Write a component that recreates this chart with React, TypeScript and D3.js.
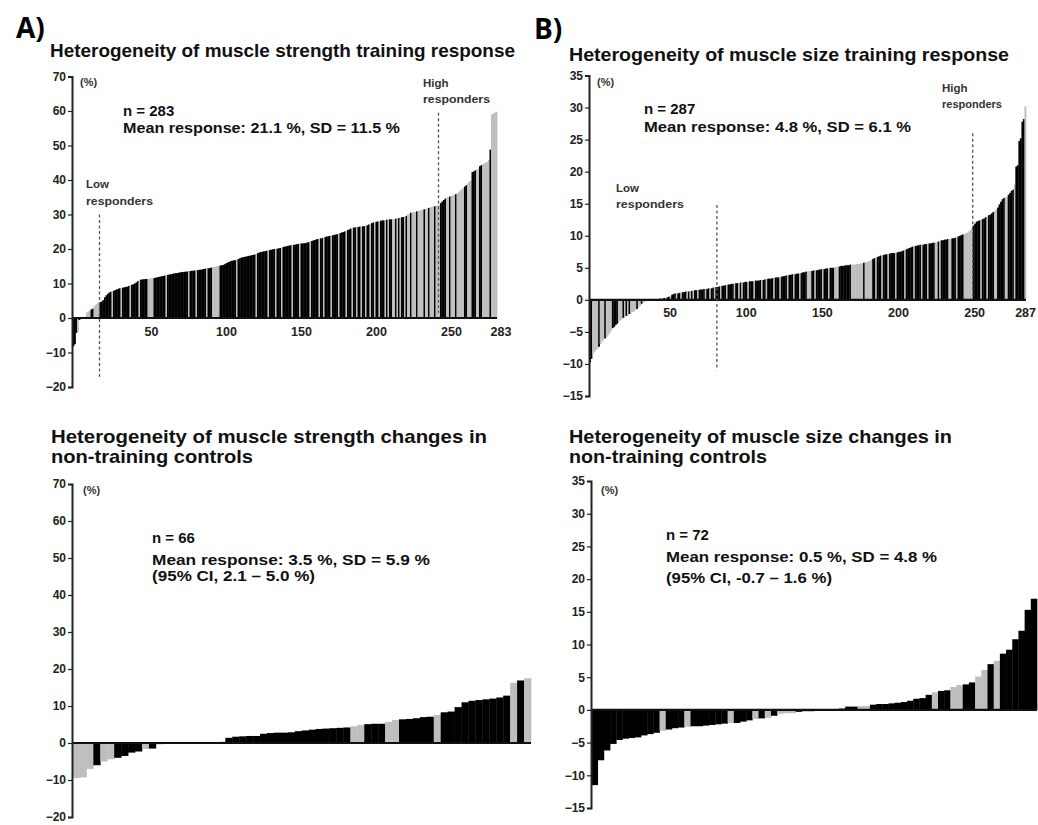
import React, { useEffect, useRef } from 'react';
import * as d3 from 'd3';

// A) strength, training group (sorted responses, %)
const strengthTrainValues = [
  -8.2, -7.6, -4.3, -4.0, -0.6, -0.3, -0.1, 0.1, 0.3, 1.6,
  1.9, 2.1, 2.5, 2.7, 3.4, 3.8, 4.2, 4.5, 4.6, 4.8,
  5.2, 6.0, 6.6, 7.0, 7.4, 7.6, 7.8, 7.9, 8.1, 8.3,
  8.5, 8.6, 8.7, 8.8, 8.9, 9.0, 9.1, 9.3, 9.5, 9.6,
  9.8, 10.0, 10.3, 10.7, 11.0, 11.1, 11.2, 11.2, 11.3, 11.3,
  11.4, 11.4, 11.5, 11.5, 11.6, 11.7, 11.8, 11.9, 12.0, 12.1,
  12.2, 12.3, 12.4, 12.5, 12.6, 12.7, 12.8, 12.9, 13.0, 13.0,
  13.1, 13.2, 13.3, 13.3, 13.4, 13.4, 13.5, 13.6, 13.6, 13.7,
  13.7, 13.8, 13.9, 13.9, 14.0, 14.0, 14.1, 14.2, 14.3, 14.4,
  14.4, 14.5, 14.6, 14.7, 14.8, 14.9, 15.0, 15.1, 15.2, 15.3,
  15.4, 15.6, 15.9, 16.1, 16.3, 16.5, 16.6, 16.7, 16.8, 16.9,
  17.1, 17.3, 17.5, 17.6, 17.7, 17.8, 17.9, 18.0, 18.1, 18.2,
  18.3, 18.4, 18.6, 18.8, 19.0, 19.1, 19.2, 19.3, 19.4, 19.5,
  19.6, 19.7, 19.8, 19.9, 20.0, 20.0, 20.1, 20.2, 20.3, 20.4,
  20.6, 20.7, 20.8, 20.9, 21.0, 21.1, 21.2, 21.2, 21.3, 21.4,
  21.5, 21.5, 21.6, 21.6, 21.7, 21.7, 21.9, 22.0, 22.2, 22.3,
  22.5, 22.6, 22.8, 22.9, 23.0, 23.1, 23.2, 23.3, 23.5, 23.6,
  23.7, 23.8, 23.9, 24.0, 24.1, 24.2, 24.3, 24.5, 24.6, 24.8,
  24.9, 25.1, 25.3, 25.5, 25.7, 25.9, 26.1, 26.2, 26.3, 26.4,
  26.4, 26.5, 26.5, 26.6, 26.6, 26.7, 26.9, 27.1, 27.3, 27.5,
  27.7, 27.8, 27.9, 28.0, 28.1, 28.2, 28.3, 28.3, 28.4, 28.5,
  28.5, 28.6, 28.6, 28.7, 28.7, 28.8, 28.9, 29.0, 29.1, 29.2,
  29.3, 29.3, 29.6, 30.0, 30.3, 30.5, 30.6, 30.7, 30.8, 30.9,
  31.0, 31.1, 31.3, 31.4, 31.5, 31.6, 31.8, 31.9, 32.1, 32.2,
  32.3, 32.4, 32.5, 32.6, 32.8, 33.3, 33.8, 34.2, 34.6, 34.9,
  35.0, 35.2, 35.4, 35.6, 35.7, 35.9, 36.2, 36.6, 37.0, 37.3,
  37.7, 38.1, 38.5, 39.0, 39.6, 39.8, 42.3, 42.5, 42.8, 43.0,
  43.2, 44.0, 44.3, 44.6, 44.8, 45.0, 45.3, 45.8, 48.8, 59.0,
  59.3, 59.5, 59.8,
];
const strengthTrainGray = [
  3, 9, 10, 11, 14, 15, 16, 17, 26, 32, 38, 44, 50, 51, 52, 53, 62, 77, 82, 89,
  93, 94, 95, 96, 97, 109, 122, 130, 135, 139, 146, 151, 158, 164, 167, 172, 177,
  182, 186, 189, 192, 195, 198, 201, 204, 208, 210, 213, 214, 216, 218, 221, 223,
  224, 226, 227, 228, 230, 231, 232, 233, 235, 236, 238, 239, 240, 242, 243, 244,
  249, 250, 252, 253, 254, 256, 257, 258, 259, 260, 263, 264, 265, 269, 270, 273,
  274, 275, 276, 277, 279, 280, 281, 282,
];

// B) size, training group
const sizeTrainValues = [
  -9.8, -9.2, -8.4, -8.1, -7.8, -7.6, -7.3, -6.9, -6.5, -6.2,
  -6.0, -5.8, -5.5, -5.2, -4.8, -4.4, -4.2, -3.9, -3.7, -3.4,
  -3.2, -3.0, -2.8, -2.6, -2.5, -2.4, -2.2, -2.0, -1.9, -1.8,
  -1.6, -1.4, -1.1, -0.9, -0.6, -0.4, -0.2, -0.1, -0.1, 0.0,
  0.0, 0.0, 0.1, 0.1, 0.1, 0.1, 0.2, 0.2, 0.2, 0.3,
  0.3, 0.4, 0.5, 0.6, 0.8, 0.9, 1.0, 1.0, 1.0, 1.1,
  1.1, 1.2, 1.2, 1.3, 1.3, 1.3, 1.4, 1.4, 1.4, 1.5,
  1.5, 1.5, 1.6, 1.6, 1.6, 1.7, 1.7, 1.7, 1.8, 1.8,
  1.8, 1.9, 1.9, 2.0, 2.0, 2.1, 2.1, 2.2, 2.2, 2.3,
  2.3, 2.4, 2.4, 2.5, 2.5, 2.5, 2.6, 2.6, 2.6, 2.7,
  2.7, 2.7, 2.8, 2.8, 2.8, 2.9, 2.9, 2.9, 3.0, 3.0,
  3.0, 3.0, 3.1, 3.1, 3.1, 3.2, 3.2, 3.3, 3.3, 3.3,
  3.4, 3.4, 3.5, 3.5, 3.5, 3.6, 3.6, 3.7, 3.7, 3.8,
  3.8, 3.9, 3.9, 4.0, 4.0, 4.0, 4.1, 4.1, 4.2, 4.2,
  4.3, 4.3, 4.4, 4.4, 4.5, 4.5, 4.5, 4.6, 4.6, 4.6,
  4.7, 4.7, 4.8, 4.8, 4.8, 4.9, 4.9, 4.9, 5.0, 5.0,
  5.0, 5.1, 5.1, 5.2, 5.2, 5.3, 5.3, 5.3, 5.4, 5.4,
  5.4, 5.5, 5.5, 5.5, 5.5, 5.6, 5.6, 5.6, 5.7, 5.7,
  5.8, 5.8, 5.9, 6.0, 6.1, 6.2, 6.4, 6.5, 6.6, 6.7,
  6.8, 6.9, 7.0, 7.0, 7.1, 7.1, 7.2, 7.2, 7.3, 7.3,
  7.3, 7.4, 7.4, 7.5, 7.5, 7.6, 7.7, 7.8, 7.9, 8.0,
  8.1, 8.2, 8.3, 8.4, 8.4, 8.5, 8.5, 8.6, 8.6, 8.6,
  8.7, 8.7, 8.8, 8.8, 8.8, 8.9, 8.9, 9.0, 9.0, 9.1,
  9.2, 9.3, 9.3, 9.4, 9.4, 9.5, 9.5, 9.5, 9.6, 9.6,
  9.7, 9.8, 9.9, 10.0, 10.1, 10.2, 10.3, 10.4, 10.5, 10.7,
  10.9, 11.2, 11.6, 11.9, 12.2, 12.3, 12.4, 12.5, 12.6, 12.7,
  12.9, 13.0, 13.2, 13.3, 13.5, 13.7, 13.9, 14.1, 14.4, 14.9,
  15.3, 15.7, 15.9, 16.0, 16.1, 16.4, 16.7, 17.0, 17.2, 18.0,
  20.8, 21.0, 24.8, 25.2, 27.8, 28.2, 30.2,
];
const sizeTrainGray = [
  2, 3, 4, 5, 7, 8, 9, 11, 12, 13, 14, 19, 20, 21, 23, 25, 27, 28, 29, 30, 32, 33,
  35, 40, 44, 47, 50, 53, 57, 60, 64, 66, 68, 71, 76, 79, 82, 86, 90, 95, 98, 100,
  104, 108, 113, 116, 121, 125, 130, 134, 138, 143, 144, 145, 148, 153, 157, 161,
  162, 163, 172, 173, 174, 175, 176, 177, 178, 179, 181, 182, 183, 184, 185, 188,
  192, 196, 201, 207, 213, 218, 222, 227, 228, 230, 236, 237, 241, 246, 247, 248,
  249, 250, 251, 257, 261, 266, 267, 273, 274, 279, 286,
];

// controls
const strengthControlValues = [
  -9.5, -9.3, -7.0, -6.0, -5.0, -4.4, -4.0, -3.5, -2.6, -2.3,
  -1.6, -1.5, -0.3, -0.2, -0.2, -0.1, -0.1, 0.0, 0.1, 0.1,
  0.2, 0.3, 1.4, 1.7, 1.8, 1.9, 1.9, 2.5, 2.7, 2.8,
  2.8, 2.9, 3.2, 3.4, 3.6, 3.8, 3.9, 4.0, 4.1, 4.2,
  4.5, 4.9, 5.1, 5.2, 5.2, 5.7, 6.2, 6.4, 6.5, 6.7,
  7.0, 7.1, 7.6, 8.3, 8.5, 9.7, 11.0, 11.4, 11.6, 11.8,
  12.0, 12.3, 12.8, 16.3, 16.9, 17.5,
];
const strengthControlGray = [0, 1, 2, 4, 5, 10, 40, 41, 45, 46, 52, 63, 65];

const sizeControlValues = [
  -11.5, -7.7, -6.2, -5.2, -4.6, -4.4, -4.3, -4.2, -3.9, -3.7,
  -3.5, -3.2, -3.0, -2.8, -2.7, -2.6, -2.5, -2.5, -2.4, -2.3,
  -2.2, -2.1, -2.0, -2.0, -1.8, -1.6, -1.4, -1.3, -1.2, -0.9,
  -0.6, -0.5, -0.5, -0.3, -0.2, -0.2, -0.1, -0.1, 0.1, 0.1,
  0.2, 0.5, 0.5, 0.6, 0.6, 0.8, 0.9, 0.9, 1.0, 1.1,
  1.2, 1.4, 1.7, 1.8, 2.3, 2.7, 2.9, 3.0, 3.5, 3.8,
  3.9, 4.2, 5.1, 6.1, 7.0, 7.5, 8.6, 9.2, 10.8, 12.1,
  15.3, 17.0,
];
const sizeControlGray = [11, 15, 22, 26, 28, 30, 31, 32, 43, 44, 55, 58, 59, 62, 63, 65];

const strengthTicks = [-20, -10, 0, 10, 20, 30, 40, 50, 60, 70];
const sizeTicks = [-15, -10, -5, 0, 5, 10, 15, 20, 25, 30, 35];
const strengthTrainXTicks = [50, 100, 150, 200, 250, 283];
const sizeTrainXTicks = [50, 100, 150, 200, 250, 287];
// low / high responder cut-offs (bar counts) and dashed line spans (%)
const strengthTrainCuts = [18, 244];
const strengthTrainCutSpans = [[30, -17], [59.5, 1.5]];
const sizeTrainCuts = [84, 252];
const sizeTrainCutSpans = [[14.8, -11], [26, 0.4]];

const FONT = '"Liberation Sans", Arial, Helvetica, sans-serif';
const BLACK = '#000000';
const GRAY = '#bebebe';
const WIDTH = 1038;

const panels = [
  {
    values: strengthTrainValues, gray: strengthTrainGray,
    yDomain: [-20, 70], yRange: [387, 76.5], yTicks: strengthTicks,
    axisX: 72, barRange: [72.5, 497],
    xTicks: strengthTrainXTicks, xTickY: 335.5, xTickShift: 4,
    cuts: strengthTrainCuts, cutSpans: strengthTrainCutSpans,
    unitPos: [80, 86],
    title: [{ t: 'Heterogeneity of muscle strength training response', x: 50, y: 57, w: 465 }],
    stats: [
      { t: 'n = 283', x: 123, y: 115.5 },
      { t: 'Mean response: 21.1 %, SD = 11.5 %', x: 123, y: 133, w: 277 },
    ],
    notes: [
      { t: 'High', x: 423, y: 87 }, { t: 'responders', x: 423, y: 103, w: 67 },
      { t: 'Low', x: 86, y: 188 }, { t: 'responders', x: 86, y: 205, w: 67 },
    ],
  },
  {
    values: sizeTrainValues, gray: sizeTrainGray,
    yDomain: [-15, 35], yRange: [396, 75.5], yTicks: sizeTicks,
    axisX: 589, barRange: [589, 1026],
    xTicks: sizeTrainXTicks, xTickY: 317, xTickShift: 5,
    cuts: sizeTrainCuts, cutSpans: sizeTrainCutSpans,
    unitPos: [597, 86],
    title: [{ t: 'Heterogeneity of muscle size training response', x: 569, y: 61, w: 440 }],
    stats: [
      { t: 'n = 287', x: 644, y: 114 },
      { t: 'Mean response: 4.8 %, SD = 6.1 %', x: 644, y: 132, w: 267 },
    ],
    notes: [
      { t: 'High', x: 942, y: 92 }, { t: 'responders', x: 942, y: 108, w: 60 },
      { t: 'Low', x: 616, y: 191.5 }, { t: 'responders', x: 616, y: 208, w: 68 },
    ],
  },
  {
    values: strengthControlValues, gray: strengthControlGray,
    yDomain: [-20, 70], yRange: [817, 484], yTicks: strengthTicks,
    axisX: 72, barRange: [72.5, 531],
    xTicks: [], xTickY: 0, xTickShift: 0,
    cuts: [], cutSpans: [],
    unitPos: [83, 494],
    title: [
      { t: 'Heterogeneity of muscle strength changes in', x: 51, y: 443, w: 436 },
      { t: 'non-training controls', x: 51, y: 463, w: 202 },
    ],
    stats: [
      { t: 'n = 66', x: 152, y: 542.5 },
      { t: 'Mean response: 3.5 %, SD = 5.9 %', x: 152, y: 564.5, w: 278 },
      { t: '(95% CI, 2.1 \u2013 5.0 %)', x: 152, y: 580.5, w: 163 },
    ],
    notes: [],
  },
  {
    values: sizeControlValues, gray: sizeControlGray,
    yDomain: [-15, 35], yRange: [808, 481], yTicks: sizeTicks,
    axisX: 591, barRange: [591.5, 1037],
    xTicks: [], xTickY: 0, xTickShift: 0,
    cuts: [], cutSpans: [],
    unitPos: [601, 494],
    title: [
      { t: 'Heterogeneity of muscle size changes in', x: 569, y: 443, w: 383 },
      { t: 'non-training controls', x: 569, y: 463, w: 198 },
    ],
    stats: [
      { t: 'n = 72', x: 666, y: 539.5 },
      { t: 'Mean response: 0.5 %, SD = 4.8 %', x: 666, y: 561.5, w: 271 },
      { t: '(95% CI, -0.7 \u2013 1.6 %)', x: 666, y: 582.5, w: 166 },
    ],
    notes: [],
  },
];

function addText(g, d, size, fill, weight = 'bold') {
  const t = g.append('text')
    .attr('x', d.x).attr('y', d.y)
    .attr('font-family', FONT)
    .attr('font-size', size)
    .attr('font-weight', weight)
    .attr('fill', fill)
    .text(d.t);
  if (d.w) t.attr('textLength', d.w).attr('lengthAdjust', 'spacingAndGlyphs');
  return t;
}

export default function App() {
  const ref = useRef<SVGSVGElement>(null);

  useEffect(() => {
    const svg = d3.select(ref.current);
    svg.selectAll('*').remove();

    svg.append('text').attr('x', 16).attr('y', 38)
      .attr('font-family', '"Open Sans", "Noto Sans", sans-serif')
      .attr('font-weight', 'bold').attr('font-size', 28).text('A)');
    svg.append('text').attr('x', 534).attr('y', 39)
      .attr('font-family', '"Open Sans", "Noto Sans", sans-serif')
      .attr('font-weight', 'bold').attr('font-size', 28).text('B)');

    panels.forEach(p => {
      const g = svg.append('g');
      const n = p.values.length;
      const y = d3.scaleLinear().domain(p.yDomain).range(p.yRange);
      const x = d3.scaleBand().domain(d3.range(n).map(String)).range(p.barRange).paddingInner(0);
      const xl = d3.scaleLinear().domain([0, n]).range(p.barRange);
      const graySet = new Set(p.gray);

      g.selectAll('rect.bar')
        .data(p.values)
        .join('rect')
          .attr('class', 'bar')
          .attr('x', (d, i) => x(String(i)))
          .attr('width', x.bandwidth() + 0.35)
          .attr('y', d => Math.min(y(d), y(0)))
          .attr('height', d => Math.abs(y(d) - y(0)))
          .attr('fill', (d, i) => graySet.has(i) ? GRAY : BLACK);

      // zero line
      g.append('line')
        .attr('x1', p.axisX).attr('x2', p.barRange[1])
        .attr('y1', y(0)).attr('y2', y(0))
        .attr('stroke', '#111').attr('stroke-width', 2.2);

      // y axis
      const ax = g.append('g')
        .attr('transform', `translate(${p.axisX},0)`)
        .call(d3.axisLeft(y).tickValues(p.yTicks).tickSizeInner(4).tickSizeOuter(4).tickPadding(2));
      ax.select('.domain').attr('stroke', '#222').attr('stroke-width', 2);
      ax.selectAll('.tick line').attr('stroke', '#222').attr('stroke-width', 1.2);
      ax.selectAll('.tick text')
        .attr('font-family', FONT).attr('font-size', 12)
        .attr('font-weight', 'bold').attr('fill', '#222');

      // x tick labels (kept inside the page on the right)
      p.xTicks.forEach(t => {
        const lbl = g.append('text')
          .attr('y', p.xTickY)
          .attr('font-family', FONT).attr('font-size', 12.5)
          .attr('font-weight', 'bold').attr('fill', '#222')
          .text(t);
        const cx = xl(t) + p.xTickShift;
        const half = lbl.node().getComputedTextLength() / 2;
        lbl.attr('x', Math.min(cx, WIDTH - 2 - half)).attr('text-anchor', 'middle');
      });

      // responder cut-offs
      p.cuts.forEach((c, k) => {
        g.append('line')
          .attr('x1', xl(c)).attr('x2', xl(c))
          .attr('y1', y(p.cutSpans[k][0])).attr('y2', y(p.cutSpans[k][1]))
          .attr('stroke', '#555').attr('stroke-width', 1.3)
          .attr('stroke-dasharray', '3,2.5');
      });

      addText(g, { t: '(%)', x: p.unitPos[0], y: p.unitPos[1] }, 11, '#333');
      p.title.forEach(d => addText(g, d, 19, '#111'));
      p.stats.forEach(d => addText(g, d, 15, '#111'));
      p.notes.forEach(d => addText(g, d, 11.5, '#333'));
    });
  }, []);

  return (
    <svg ref={ref} width={WIDTH} height={825}
      style={{ position: 'absolute', left: 0, top: 0, background: '#fff' }} />
  );
}
